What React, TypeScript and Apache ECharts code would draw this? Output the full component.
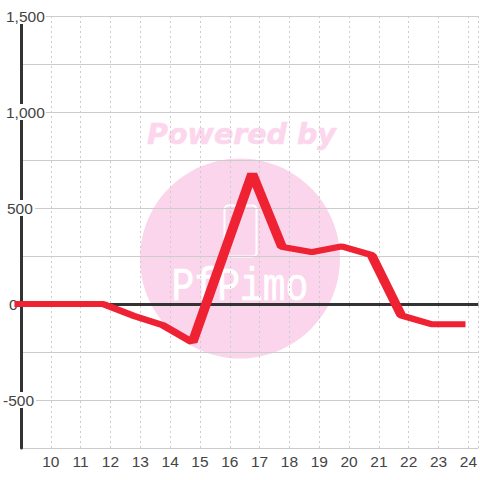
import React, { useEffect, useRef } from "react";
import * as echarts from "echarts";

const hours = [8.78, 9.75, 10.75, 11.75, 12.75, 13.75, 14.75, 15.75, 16.75, 17.75, 18.75, 19.75, 20.75, 21.75, 22.75, 23.9];
const values = [0, 0, 0, 0, -60, -110, -200, 240, 680, 297, 270, 300, 255, -60, -105, -105];
const yLabels: Record<string, string> = { "1500": "{a|1,500}", "1000": "{a|1,000}", "500": "{d|500}", "0": "{b|0}", "-500": "{c|-500}" };

const labelBase = { fontFamily: "Liberation Sans", fontSize: 15.5, color: "#444444", backgroundColor: "#ffffff", lineHeight: 16, height: 16 };
const PEN_STRETCH = 5 / 3;

export default function App() {
  const ref = useRef<HTMLDivElement>(null);
  useEffect(() => {
    document.body.style.margin = "0";
    const chart = echarts.init(ref.current!, undefined, { renderer: "svg" });
    chart.setOption({
      animation: false,
      backgroundColor: "#ffffff",
      grid: { left: 20, top: 16, width: 460, height: 432, containLabel: false },
      xAxis: {
        type: "value",
        min: 9,
        max: 9 + 460 / 30,
        interval: 1,
        axisLine: { show: false },
        axisTick: { show: false },
        axisLabel: {
          showMinLabel: false,
          showMaxLabel: false,
          hideOverlap: false,
          margin: 5,
          fontFamily: "Liberation Sans",
          fontSize: 15.5,
          color: "#444444",
          formatter: (v: number) => (v >= 10 ? String(v) : ""),
        },
        splitLine: { show: true, lineStyle: { color: "#cccccc", width: 1, type: [2, 3] } },
      },
      yAxis: {
        type: "value",
        min: -750,
        max: 1500,
        interval: 250,
        axisLine: { show: true, onZero: false, lineStyle: { color: "#333333", width: 3 } },
        axisTick: { show: false },
        axisLabel: {
          margin: 18,
          align: "left",
          showMinLabel: true,
          showMaxLabel: true,
          formatter: (v: number) => yLabels[String(v)] ?? "",
          rich: {
            a: { ...labelBase, padding: [0, 1, 0, 3] },
            d: { ...labelBase, padding: [0, 2, 0, 4] },
            b: { ...labelBase, padding: [0, 2, 0, 6] },
            c: { ...labelBase, padding: [0, 2, 0, 0] },
          },
        },
        splitLine: { show: true, lineStyle: { color: "#cccccc", width: 1 } },
      },
      graphic: {
        elements: [
          { type: "circle", z: -5, shape: { cx: 240, cy: 258.5, r: 100 }, style: { fill: "#fbd5ec" } },
          { type: "rect", z: -4, shape: { x: 224.5, y: 205.5, width: 32, height: 51, r: 4 }, style: { fill: "none", stroke: "#ffffff", lineWidth: 2 } },
          { type: "text", z: -4, x: 240, y: 288, scaleY: 1.2, originX: 0, originY: 0, style: { text: "PfPimo", fill: "#ffffff", stroke: "#ffffff", lineWidth: 0.6, font: "38px 'Liberation Mono'", align: "center", verticalAlign: "middle" } },
          { type: "text", z: -4, x: 241.5, y: 134, style: { text: "Powered by", fill: "#fcd6ec", stroke: "#fcd6ec", lineWidth: 0.6, font: "italic bold 28.5px 'DejaVu Sans'", align: "center", verticalAlign: "middle" } },
        ],
      },
      series: [
        {
          type: "custom",
          coordinateSystem: "cartesian2d",
          clip: false,
          z: 5,
          encode: { x: 0, y: 1 },
          data: hours.map((h, i) => [h, values[i]]),
          renderItem: (params: any, api: any) => {
            if (params.dataIndex !== 0) return null;
            const points = hours.map((h, i) => {
              const p = api.coord([h, values[i]]);
              return [p[0] / PEN_STRETCH, p[1]];
            });
            return {
              type: "polyline",
              scaleX: PEN_STRETCH,
              shape: { points },
              style: { fill: "none", stroke: "#ee2233", lineWidth: 6, lineCap: "butt", lineJoin: "bevel" },
            };
          },
          markLine: {
            silent: true,
            symbol: "none",
            label: { show: false },
            z: 1,
            lineStyle: { color: "#333333", width: 3, type: "solid" },
            data: [{ yAxis: 0 }],
          },
        },
      ],
    });
    return () => chart.dispose();
  }, []);
  return <div ref={ref} style={{ width: 480, height: 480 }} />;
}
